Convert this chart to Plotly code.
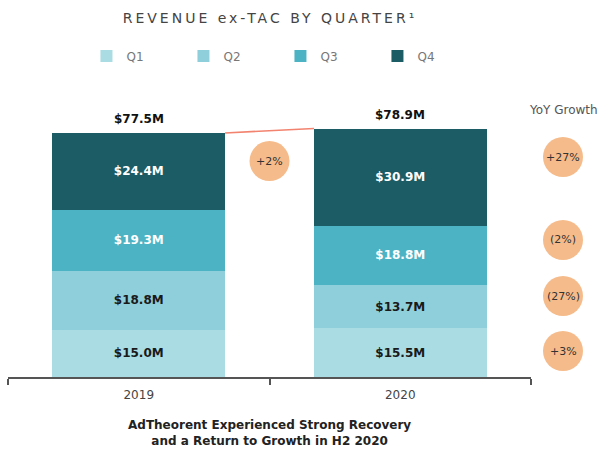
import plotly.graph_objects as go

years = ["2019", "2020"]
quarters = ["Q1", "Q2", "Q3", "Q4"]
q_values = {
    "Q1": [15.0, 15.5],
    "Q2": [18.8, 13.7],
    "Q3": [19.3, 18.8],
    "Q4": [24.4, 30.9],
}
q_colors = {"Q1": "#a9dce3", "Q2": "#8ecfdb", "Q3": "#4cb3c4", "Q4": "#1c5c64"}
q_text_colors = {"Q1": "#1a1a1a", "Q2": "#1a1a1a", "Q3": "#ffffff", "Q4": "#ffffff"}
total_growth = "+2%"
yoy_labels = ["+3%", "(27%)", "(2%)", "+27%"]  # Q1..Q4
yoy_ypos = [0.0875, 0.2727, 0.4613, 0.7407]      # paper positions of the circles

totals = [round(sum(q_values[q][i] for q in quarters), 1) for i in range(len(years))]

FONT = "DejaVu Sans"
BAR_W = 0.66

fig = go.Figure()
for q in quarters:
    fig.add_trace(go.Bar(
        name=q, x=years, y=q_values[q], width=BAR_W,
        marker=dict(color=q_colors[q], line=dict(width=0)),
        text=[f"${v:.1f}M" for v in q_values[q]],
        textposition="inside", insidetextanchor="middle", textangle=0,
        textfont=dict(family=FONT, size=12, color=q_text_colors[q], weight="bold"),
        hoverinfo="skip",
    ))

annotations = []
for i, t in enumerate(totals):
    annotations.append(dict(x=i, y=t, xref="x", yref="y", text=f"<b>${t:.1f}M</b>",
                            showarrow=False, xanchor="center", yanchor="bottom", yshift=5,
                            font=dict(family=FONT, size=12, color="#111")))

shapes = [dict(type="line", xref="x", yref="y",
               x0=0 + BAR_W / 2, y0=totals[0], x1=1 - BAR_W / 2, y1=totals[1],
               line=dict(color="#f2836f", width=1.5))]

CIRCLE = "#f6bb8a"
R = 20
# total growth circle between bars
shapes.append(dict(type="circle", xref="x", yref="paper", xsizemode="pixel", ysizemode="pixel",
                   xanchor=0.5, yanchor=0.727, x0=-R, x1=R, y0=-R, y1=R,
                   fillcolor=CIRCLE, line=dict(width=0), layer="above"))
annotations.append(dict(x=0.5, y=0.727, xref="x", yref="paper", text=total_growth, showarrow=False,
                        xanchor="center", yanchor="middle",
                        font=dict(family=FONT, size=11, color="#333")))
for lab, yp in zip(yoy_labels, yoy_ypos):
    shapes.append(dict(type="circle", xref="paper", yref="paper", xsizemode="pixel", ysizemode="pixel",
                       xanchor=1.0612, yanchor=yp, x0=-R, x1=R, y0=-R, y1=R,
                       fillcolor=CIRCLE, line=dict(width=0), layer="above"))
    annotations.append(dict(x=1.0612, y=yp, xref="paper", yref="paper", text=lab, showarrow=False,
                            xanchor="center", yanchor="middle",
                            font=dict(family=FONT, size=11, color="#333")))

annotations.append(dict(x=1.0612, y=0.899, xref="paper", yref="paper", text="YoY Growth",
                        showarrow=False, xanchor="center", yanchor="middle",
                        font=dict(family=FONT, size=12, color="#555")))
annotations.append(dict(x=0.5, y=-0.1886, xref="paper", yref="paper",
                        text="<b>AdTheorent Experienced Strong Recovery<br>and a Return to Growth in H2 2020</b>",
                        showarrow=False, align="center", xanchor="center", yanchor="middle",
                        font=dict(family=FONT, size=12, color="#222")))

fig.update_layout(
    width=613, height=457,
    margin=dict(l=8, r=82, t=80, b=80),
    paper_bgcolor="white", plot_bgcolor="white",
    barmode="stack",
    title=dict(text='<span style="letter-spacing:3px">REVENUE ex-TAC BY QUARTER¹</span>',
               x=270 / 613, xanchor="center",
               y=1 - 18 / 457, yanchor="middle",
               font=dict(family=FONT, size=14, color="#444")),
    legend=dict(orientation="h", x=0.15, xanchor="left", y=1.081, yanchor="middle",
                entrywidth=52, entrywidthmode="pixels", traceorder="normal",
                font=dict(family=FONT, size=12, color="#777")),
    xaxis=dict(type="category", range=[-0.5, 1.5], showline=True, linecolor="#555", linewidth=1.5,
               ticks="outside", tickson="boundaries", ticklen=6, tickcolor="#555", tickwidth=1.5,
               ticklabelstandoff=6,
               showgrid=False, tickfont=dict(family=FONT, size=12, color="#444")),
    yaxis=dict(visible=False, range=[0, 94.3]),
    shapes=shapes, annotations=annotations,
    showlegend=True,
)

fig.write_html("out.html", config={"displayModeBar": False},
               post_script="document.body.style.margin='0px';")
